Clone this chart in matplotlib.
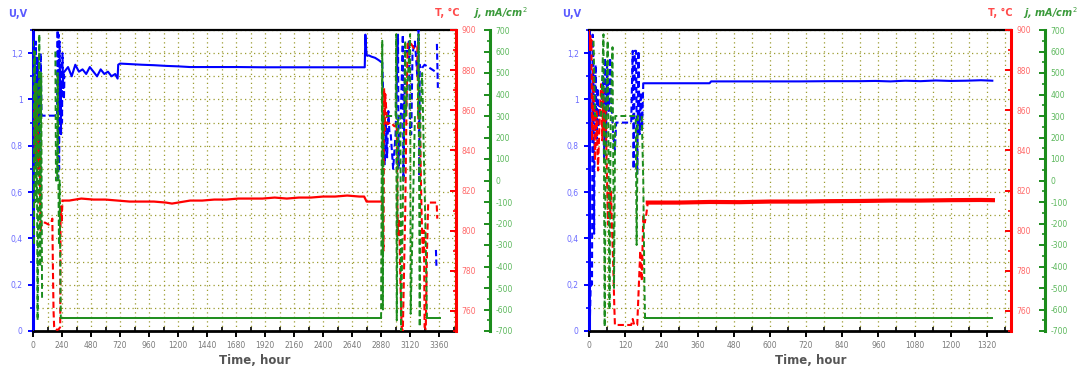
import numpy as np
import matplotlib
matplotlib.use("Agg")
import matplotlib.pyplot as plt
from matplotlib.ticker import MultipleLocator, FuncFormatter

nan = np.nan

# ---------------- Cell 1: long run (hours) ----------------
# start-up transient
c1_u_start_t = [0, 0, 4, 8, 12, 16, 20, 24, 28, 32, 36, 40, 44, 48, 52, 56, 60, 64, 70, 80,
                100, 130, 160, 190, 200, 204, 208, 212, 216, 220, 224, 228, 232, 236, 240,
                244, 248, 252, 256, 260]
c1_u_start_v = [0, 1.30, 0.95, 1.22, 0.78, 1.15, 0.88, 1.25, 0.72, 1.05, 0.93, 1.18, 0.80,
                1.10, 0.70, 1.00, 0.93, 1.20, 0.93, 0.93, 0.93, 0.93, 0.93, 0.93, 0.93, 1.30,
                0.66, 1.28, 0.70, 1.25, 0.95, 1.05, 0.85, 1.15, 0.90, 1.20, 1.05, 1.12, 1.00,
                1.10]
# steady operation
c1_u_run_t = [260, 290, 320, 350, 380, 410, 440, 470, 500, 530, 560, 590, 620, 650, 680, 700,
              705, 720, 900, 1000, 1100, 1200, 1300, 1500, 1700, 1900, 2100, 2300, 2500, 2700,
              2745, 2750, 2760, 2780, 2800, 2830, 2860, 2885]
c1_u_run_v = [1.12, 1.14, 1.10, 1.15, 1.12, 1.13, 1.11, 1.14, 1.12, 1.10, 1.13, 1.11, 1.12,
              1.10, 1.11, 1.09, 1.15, 1.155, 1.15, 1.148, 1.145, 1.143, 1.14, 1.14, 1.14,
              1.139, 1.139, 1.139, 1.139, 1.139, 1.139, 1.28, 1.19, 1.19, 1.185, 1.18, 1.17,
              1.16]
# final cycling
c1_u_end_t = [2890, 2900, 2910, 2920, 2930, 2940, 2950, 2960, 2980, 3000, 3020, 3025, 3030,
              3040, 3060, 3065, 3070, 3080, 3100, 3110, 3120, 3130, 3140, 3160, 3180, 3190,
              3195, 3200, 3210, 3240, 3270, 3300, 3330, nan, 3334, 3338, nan, 3342, 3350]
c1_u_end_v = [1.16, 0.98, 0.72, 0.90, 0.75, 0.95, 0.85, 0.85, 0.70, 0.85, 1.28, 0.70, 0.85,
              0.85, 1.28, 0.65, 0.85, 1.22, 1.20, 1.25, 0.85, 0.85, 1.20, 1.25, 1.10, 1.30,
              0.65, 1.15, 1.13, 1.15, 1.14, 1.13, 1.12, nan, 0.35, 0.28, nan, 1.24, 1.05]

c1_t_start_t = [10, 15, 20, 25, 30, 35, 40, 45, 50, 55, 60, 62, 70, 80, 100, 130, 150, 160,
                165, 170, 175, 180, 190, 200, 215, 225, 228, 232, 236, 240, 245]
c1_t_start_v = [860, 840, 872, 835, 865, 830, 850, 845, 833, 838, 812, 800, 803, 804, 804,
                803, 804, 806, 780, 760, 752, 751, 751, 750.5, 751, 752, 805, 812, 804, 810,
                815]
c1_t_run_t = [245, 300, 400, 500, 600, 700, 800, 900, 1000, 1100, 1150, 1200, 1300, 1400,
              1500, 1600, 1700, 1800, 1900, 2000, 2100, 2200, 2300, 2400, 2500, 2600, 2700,
              2740, 2760, 2880]
c1_t_run_v = [815, 815, 816, 815.5, 815.5, 815, 814.5, 814.5, 814.5, 814, 813.5, 814, 815,
              815, 815.5, 815.5, 816, 816, 816, 816.5, 816, 816.5, 816.5, 817, 817, 817.5,
              817, 817, 814.5, 814.5]
c1_t_end_t = [2890, 2900, 2905, 2910, 2915, 2930, 2960, 2990, 3010, 3015, 3020, 3030, 3040,
              3050, 3060, 3070, 3080, 3090, 3100, 3120, 3150, 3180, 3185, 3190, 3200, 3210,
              3215, 3225, 3235, 3240, 3250, 3260, 3270, 3300, 3340, 3345]
c1_t_end_v = [814, 790, 871, 850, 868, 853, 854, 852, 853, 812, 798, 806, 775, 752, 750, 780,
              810, 860, 893, 894, 891, 892, 870, 850, 862, 825, 809, 788, 800, 752, 751, 790,
              814, 814, 814, 806]

c1_j_start_t = [0, 8, 15, 22, 30, 38, 45, 52, 60, 68, 75, nan, 185, 190, 200, 205, 210, 215,
                220, 230, 240, 250]
c1_j_start_v = [650, -300, 600, -100, 450, -650, 200, 680, -400, 500, -550, nan, 600, 0, 0,
                500, 0, -300, 0, -640, -640, -640]
c1_j_run_t = [250, 2880]
c1_j_run_v = [-640, -640]
c1_j_end_t = [2880, 2890, 2895, 2900, 2910, 2960, 3000, 3005, 3010, 3020, 3040, 3045, 3080,
              3085, 3120, 3125, 3160, 3165, 3185, 3190, 3200, 3205, 3220, 3250, 3260]
c1_j_end_v = [-640, 650, -600, 300, 300, 300, 300, 680, -650, 300, 300, -700, 650, 300, 680,
              -620, 300, 300, 300, 680, -680, 300, 500, -300, -640]
c1_j_tail_t = [3260, 3365]
c1_j_tail_v = [-640, -640]

# ---------------- Cell 2: shorter run (hours) ----------------
c2_u_start_t = [0, 0, 3, 6, 10, 12, 14, 17, 19, 22, 25, 28, 31, 34, 38, 42, 46, 50, 53, 56,
                60, 66, 70, 74, 80, 86, 90, 100, 120, 140, 145, 148, 152, 156, 160, 164, 168,
                172, 176, 180, 185]
c2_u_start_v = [0, 1.30, 0.05, 0.22, 0.20, 1.28, 1.18, 0.42, 0.95, 1.15, 0.83, 1.05, 0.88,
                0.97, 0.97, 0.97, 1.10, 0.74, 1.18, 0.80, 1.15, 0.95, 1.18, 1.00, 0.85, 0.78,
                0.90, 0.90, 0.90, 0.90, 1.21, 0.70, 1.21, 1.21, 0.68, 1.21, 0.85, 1.03, 0.87,
                1.07, 1.07]
c2_u_run_t = [185, 250, 300, 350, 400, 405, 500, 600, 700, 800, 900, 950, 1000, 1050, 1100,
              1150, 1200, 1250, 1300, 1338]
c2_u_run_v = [1.07, 1.07, 1.07, 1.07, 1.07, 1.078, 1.078, 1.078, 1.078, 1.079, 1.079, 1.08,
              1.078, 1.081, 1.079, 1.082, 1.08, 1.081, 1.083, 1.081]

c2_t_start_t = [0, 2, 4, 6, 8, 10, 15, 20, 25, 30, 35, 40, 44, 47, 50, 55, 60, 63, 66, 70,
                73, 76, 80, 84, 86, 90, 100, 120, 140, 145, 150, 160, 170, 175, 180, 185,
                190, 195]
c2_t_start_v = [900, 890, 898, 890, 895, 845, 880, 835, 860, 830, 855, 873, 845, 870, 848,
                860, 824, 803, 822, 806, 820, 803, 785, 762, 753, 753, 753, 753, 753, 756,
                753, 753, 790, 775, 807, 804, 808, 814]
c2_t_run_t = [195, 250, 300, 400, 500, 600, 700, 800, 900, 1000, 1100, 1200, 1300, 1340]
c2_t_run_v = [814, 814, 814, 814.3, 814.2, 814.5, 814.5, 814.7, 814.8, 815, 815, 815.2,
              815.3, 815.2]

c2_j_start_t = [15, 20, 30, 40, 48, 52, 56, 62, 68, 72, 78, 83, 87, 100, 130, 150, 155, 158,
                162, 170, 175, 180, 184, 186]
c2_j_start_v = [650, 300, 300, 300, 680, -680, 300, 650, -600, 300, 620, -500, 300, 300, 300,
                300, 300, -300, 300, 300, 300, 0, -500, -640]
c2_j_run_t = [186, 1338]
c2_j_run_v = [-640, -640]

# axis ranges and tick steps
c1_xmax, c1_xmajor, c1_xminor = 3500, 240, 120
c2_xmax, c2_xmajor, c2_xminor = 1400, 120, 60

BLUE = "#0000ff"
RED = "#ff0000"
GREEN = "#1c8c1c"
GRID = "#9c9c30"
DASH = (0, (3, 1.6))

W, H = 1081, 369
fig = plt.figure(figsize=(W / 100, H / 100), dpi=100)


def px(x0, y0, x1, y1):
    return [x0 / W, 1 - y1 / H, (x1 - x0) / W, (y1 - y0) / H]


def u_fmt(v, pos):
    if abs(v) < 1e-9:
        return "0"
    if abs(v - 1) < 1e-9:
        return "1"
    return f"{v:.1f}".replace(".", ",")


def build(rect, xmax, xmajor, xminor, u_parts, t_parts, j_parts, t_lw):
    ax = fig.add_axes(rect)
    ax_t = ax.twinx()
    ax_j = ax.twinx()

    ax.set_xlim(0, xmax)
    ax.set_ylim(0, 1.3)
    ax_t.set_ylim(750, 900)
    ax_j.set_ylim(-700, 700)

    # dotted olive grid every 0.1 V and every minor time step
    ax.xaxis.set_major_locator(MultipleLocator(xmajor))
    ax.xaxis.set_minor_locator(MultipleLocator(xminor))
    ax.yaxis.set_major_locator(MultipleLocator(0.2))
    ax.yaxis.set_minor_locator(MultipleLocator(0.1))
    ax.grid(True, which="both", color=GRID, linestyle=(0, (1, 2.6)), linewidth=0.9)
    ax.set_axisbelow(True)

    for (tt, vv, style) in u_parts:
        ax.plot(tt, vv, color=BLUE, lw=1.5, linestyle=style, zorder=3)
    for (tt, vv, style) in t_parts:
        ax_t.plot(tt, vv, color=RED, lw=t_lw if style == "-" else 1.5, linestyle=style,
                  zorder=3)
    for (tt, vv, style) in j_parts:
        ax_j.plot(tt, vv, color=GREEN, lw=1.4, linestyle=style, zorder=3)

    # spines
    ax.spines["left"].set_color(BLUE)
    ax.spines["left"].set_linewidth(2.2)
    ax.spines["top"].set_color("black")
    ax.spines["top"].set_linewidth(1.6)
    ax.spines["bottom"].set_color("black")
    ax.spines["bottom"].set_linewidth(2.0)
    ax.spines["right"].set_visible(False)
    for a in (ax_t, ax_j):
        for s in ("left", "top", "bottom"):
            a.spines[s].set_visible(False)
    ax_t.spines["right"].set_color(RED)
    ax_t.spines["right"].set_linewidth(2.2)
    ax_j.spines["right"].set_color(GREEN)
    ax_j.spines["right"].set_linewidth(2.2)
    ax_j.spines["right"].set_position(("outward", 24.5))

    # bottom time axis
    ax.xaxis.set_major_formatter(FuncFormatter(lambda v, p: f"{int(round(v))}"))
    ax.tick_params(axis="x", which="major", direction="out", length=4, width=1.4,
                   color="black", labelsize=5.5, labelcolor="#7a7a7a", pad=3)
    ax.tick_params(axis="x", which="minor", direction="in", length=3, width=1.2,
                   color="black")

    # voltage axis
    ax.yaxis.set_major_formatter(FuncFormatter(u_fmt))
    ax.tick_params(axis="y", which="major", direction="out", length=3.5, width=1.4,
                   color=BLUE, labelsize=5.5, labelcolor="#6a6aff", pad=4)
    ax.tick_params(axis="y", which="minor", direction="out", length=2, width=1.2,
                   color=BLUE)

    # temperature axis
    ax_t.yaxis.set_major_locator(MultipleLocator(20))
    ax_t.yaxis.set_minor_locator(MultipleLocator(10))
    ax_t.set_yticks([760, 780, 800, 820, 840, 860, 880, 900])
    ax_t.yaxis.set_major_formatter(FuncFormatter(lambda v, p: f"{int(round(v))}"))
    ax_t.tick_params(axis="y", which="major", direction="in", length=4, width=1.4,
                     color=RED, labelsize=5.5, labelcolor="#ff6a6a", pad=4)
    ax_t.tick_params(axis="y", which="minor", direction="in", length=2.5, width=1.2,
                     color=RED)

    # current density axis
    ax_j.yaxis.set_major_locator(MultipleLocator(100))
    ax_j.yaxis.set_minor_locator(MultipleLocator(50))
    ax_j.yaxis.set_major_formatter(FuncFormatter(lambda v, p: f"{int(round(v))}"))
    ax_j.tick_params(axis="y", which="major", direction="in", length=4, width=1.4,
                     color=GREEN, labelsize=5.5, labelcolor="#5cb85c", pad=4)
    ax_j.tick_params(axis="y", which="minor", direction="in", length=2, width=1.2,
                     color=GREEN)
    return ax


build(px(33, 30, 456, 331), c1_xmax, c1_xmajor, c1_xminor,
      [(c1_u_start_t, c1_u_start_v, DASH), (c1_u_run_t, c1_u_run_v, "-"),
       (c1_u_end_t, c1_u_end_v, DASH)],
      [(c1_t_start_t, c1_t_start_v, DASH), (c1_t_run_t, c1_t_run_v, "-"),
       (c1_t_end_t, c1_t_end_v, DASH)],
      [(c1_j_start_t, c1_j_start_v, DASH), (c1_j_run_t, c1_j_run_v, "-"),
       (c1_j_end_t, c1_j_end_v, DASH), (c1_j_tail_t, c1_j_tail_v, "-")],
      t_lw=1.6)

build(px(589, 30, 1011, 331), c2_xmax, c2_xmajor, c2_xminor,
      [(c2_u_start_t, c2_u_start_v, DASH), (c2_u_run_t, c2_u_run_v, "-")],
      [(c2_t_start_t, c2_t_start_v, DASH), (c2_t_run_t, c2_t_run_v, "-")],
      [(c2_j_start_t, c2_j_start_v, DASH), (c2_j_run_t, c2_j_run_v, "-")],
      t_lw=3.0)


def ftext(x, y, s, **kw):
    fig.text(x / W, 1 - y / H, s, ha="center", va="center", **kw)


for x_u, x_t, x_j, x_lab in ((18, 447, 500, 255), (572, 1000, 1050, 811)):
    ftext(x_u, 14, "U,V", color="#5a5aff", fontsize=7, fontweight="bold")
    ftext(x_t, 13, "T, \u00b0C", color="#ff4a4a", fontsize=7, fontweight="bold")
    ftext(x_j, 13, "j, mA/cm$^2$", color="#3a9a3a", fontsize=7, fontweight="bold",
          fontstyle="italic")
    ftext(x_lab, 360, "Time, hour", color="#555555", fontsize=8.5, fontweight="bold")

fig.savefig("out.png", dpi=100)
